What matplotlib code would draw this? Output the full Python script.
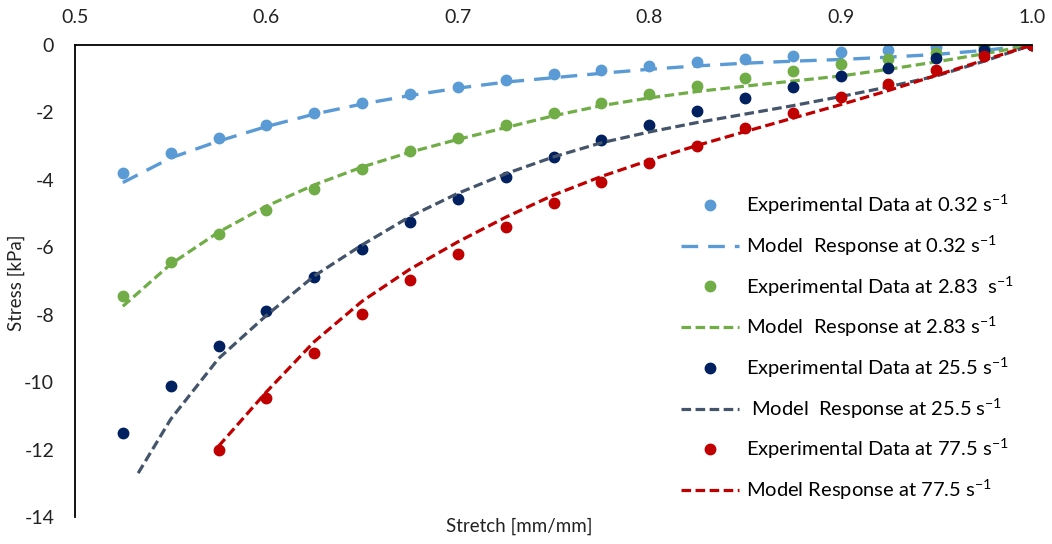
import matplotlib
matplotlib.use("Agg")
import matplotlib.pyplot as plt

plt.rcParams['font.family'] = ['Lato', 'DejaVu Sans']
plt.rcParams['mathtext.default'] = 'regular'
plt.rcParams['axes.unicode_minus'] = False

# 실험 데이터 (stretch 공통)
stretch = [0.525, 0.55, 0.575, 0.6, 0.625, 0.65, 0.675, 0.7, 0.725, 0.75,
           0.775, 0.8, 0.825, 0.85, 0.875, 0.9, 0.925, 0.95, 0.975, 1.0]
stretch_red = stretch[2:]

exp_032 = [-3.8, -3.2, -2.75, -2.37, -2.03, -1.73, -1.46, -1.24, -1.04, -0.86,
           -0.74, -0.61, -0.5, -0.42, -0.33, -0.22, -0.16, -0.07, -0.01, 0.0]
exp_283 = [-7.45, -6.45, -5.6, -4.9, -4.26, -3.69, -3.15, -2.75, -2.38, -2.03,
           -1.71, -1.46, -1.22, -0.99, -0.77, -0.56, -0.42, -0.25, -0.07, 0.0]
exp_255 = [-11.5, -10.12, -8.92, -7.88, -6.87, -6.05, -5.24, -4.56, -3.92, -3.31,
           -2.83, -2.37, -1.95, -1.56, -1.24, -0.92, -0.67, -0.4, -0.15, 0.0]
exp_775 = [-12.02, -10.48, -9.14, -7.98, -6.98, -6.2, -5.39, -4.68,
           -4.07, -3.5, -3.0, -2.47, -2.01, -1.55, -1.17, -0.74, -0.33, 0.0]

# 모델 응답
model_032 = [-4.08, -3.35, -2.85, -2.42, -2.05, -1.75, -1.5, -1.28, -1.1, -0.97,
             -0.84, -0.72, -0.62, -0.54, -0.48, -0.43, -0.36, -0.28, -0.16, 0.0]
model_283 = [-7.75, -6.5, -5.55, -4.78, -4.15, -3.62, -3.18, -2.8, -2.45, -2.1,
             -1.8, -1.57, -1.38, -1.22, -1.07, -0.92, -0.72, -0.5, -0.26, 0.0]
stretch_m255 = [0.533] + stretch[1:]
model_255 = [-12.7, -11.1, -9.3, -8.02, -6.85, -5.93, -5.09, -4.4, -3.82, -3.32,
             -2.9, -2.58, -2.3, -2.05, -1.8, -1.53, -1.24, -0.92, -0.48, 0.0]
model_775 = [-11.9, -10.29, -8.8, -7.6, -6.65, -5.84, -5.11, -4.45,
             -3.9, -3.42, -2.98, -2.57, -2.17, -1.77, -1.35, -0.9, -0.45, 0.0]

labels = ['Experimental Data at 0.32 s$^{-1}$',
          'Model  Response at 0.32 s$^{-1}$',
          'Experimental Data at 2.83  s$^{-1}$',
          'Model  Response at 2.83 s$^{-1}$',
          'Experimental Data at 25.5 s$^{-1}$',
          ' Model  Response at 25.5 s$^{-1}$',
          'Experimental Data at 77.5 s$^{-1}$',
          'Model Response at 77.5 s$^{-1}$']

fig = plt.figure(figsize=(10.52, 5.44), dpi=100)
ax = fig.add_axes([75 / 1052, 1 - 517 / 544, (1032 - 75) / 1052, (517 - 45) / 544])

ms = 7.5
ax.plot(stretch, exp_032, 'o', color='#5B9BD5', ms=ms, label=labels[0])
ax.plot(stretch, model_032, color='#5B9BD5', lw=2.4, dashes=(5, 3), label=labels[1])
ax.plot(stretch, exp_283, 'o', color='#70AD47', ms=ms, label=labels[2])
ax.plot(stretch, model_283, color='#70AD47', lw=2.3, dashes=(3, 1.4), label=labels[3])
ax.plot(stretch, exp_255, 'o', color='#002060', ms=ms, label=labels[4])
ax.plot(stretch_m255, model_255, color='#44546A', lw=2.3, dashes=(3, 1.4), label=labels[5])
ax.plot(stretch_red, exp_775, 'o', color='#C00000', ms=ms, label=labels[6])
ax.plot(stretch_red, model_775, color='#C00000', lw=2.3, dashes=(3, 1.4), label=labels[7])

ax.set_xlim(0.5, 1.0)
ax.set_ylim(-14, 0)
ax.set_xticks([0.5, 0.6, 0.7, 0.8, 0.9, 1.0])
ax.set_xticklabels(['0.5', '0.6', '0.7', '0.8', '0.9', '1.0'])
ax.set_yticks(range(-14, 1, 2))
ax.xaxis.tick_top()
ax.tick_params(axis='x', length=0, pad=14, labelsize=14, colors='#222222')
ax.tick_params(axis='y', length=0, pad=15, labelsize=14, colors='#222222')

ax.spines['right'].set_visible(False)
ax.spines['bottom'].set_visible(False)
ax.spines['top'].set_linewidth(1.3)
ax.spines['left'].set_linewidth(1.3)

fig.text(16 / 1052, 1 - 283 / 544, 'Stress [kPa]', rotation=90, ha='center', va='center',
         fontsize=13.5, color='#222222')
fig.text(519 / 1052, 1 - 526 / 544, 'Stretch [mm/mm]', ha='center', va='center',
         fontsize=13.5, color='#222222')

ax.legend(loc='upper left', bbox_to_anchor=(681 / 1052, 1 - 193 / 544),
          bbox_transform=fig.transFigure, frameon=False, fontsize=14.5,
          handlelength=2.9, handletextpad=0.35, labelspacing=0.82,
          borderpad=0, borderaxespad=0)

plt.savefig('out.png', dpi=100)
